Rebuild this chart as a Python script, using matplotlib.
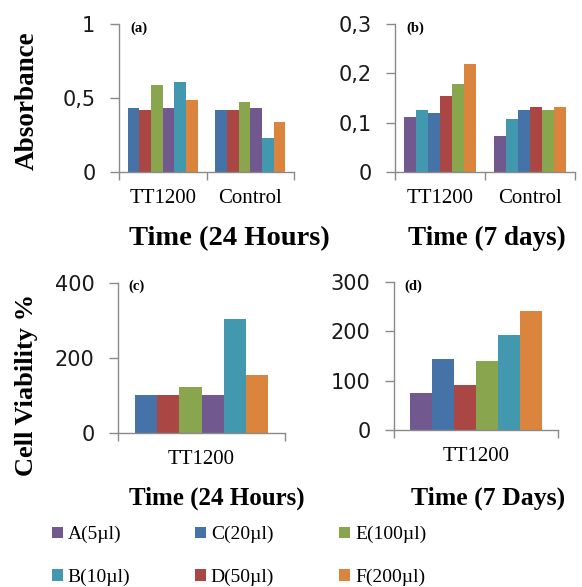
import numpy as np
import matplotlib.pyplot as plt
from matplotlib.patches import Patch
from matplotlib.ticker import FuncFormatter

W, H = 582, 587

# series names and colours
names = ["A(5µl)", "B(10µl)", "C(20µl)", "D(50µl)", "E(100µl)", "F(200µl)"]
colors = {
    "A(5µl)": "#71588F",
    "B(10µl)": "#4198AF",
    "C(20µl)": "#4572A7",
    "D(50µl)": "#AA4643",
    "E(100µl)": "#89A54E",
    "F(200µl)": "#DB843D",
}

# (a) absorbance, 24 hours
a_groups = ["TT1200", "Control"]
a_order = ["C(20µl)", "D(50µl)", "E(100µl)", "A(5µl)", "B(10µl)", "F(200µl)"]
a_tt1200 = [0.43, 0.42, 0.585, 0.43, 0.605, 0.485]
a_control = [0.42, 0.42, 0.475, 0.43, 0.23, 0.34]

# (b) absorbance, 7 days
b_groups = ["TT1200", "Control"]
b_order = ["A(5µl)", "B(10µl)", "C(20µl)", "D(50µl)", "E(100µl)", "F(200µl)"]
b_tt1200 = [0.112, 0.125, 0.119, 0.155, 0.179, 0.219]
b_control = [0.072, 0.108, 0.125, 0.132, 0.125, 0.132]

# (c) cell viability, 24 hours
c_groups = ["TT1200"]
c_order = ["C(20µl)", "D(50µl)", "E(100µl)", "A(5µl)", "B(10µl)", "F(200µl)"]
c_tt1200 = [101, 101, 124, 101, 303, 155]

# (d) cell viability, 7 days
d_groups = ["TT1200"]
d_order = ["A(5µl)", "C(20µl)", "D(50µl)", "E(100µl)", "B(10µl)", "F(200µl)"]
d_tt1200 = [76, 143, 92, 139, 193, 242]

SERIF = "Liberation Serif"
SANS = "DejaVu Sans"
GRAY = "#8a8a8a"


def px_box(x0, y0, x1, y1):
    # pixel box (top-left origin) -> figure fraction rect
    return [x0 / W, 1 - y1 / H, (x1 - x0) / W, (y1 - y0) / H]


def fx(x, y):
    return x / W, 1 - y / H


def comma_fmt(v, pos):
    s = f"{v:g}"
    return s.replace(".", ",")


def draw_panel(ax, groups, order, series, ymax, yticks, tag):
    n = len(order)
    gw = 0.8
    bw = gw / n
    for gi, vals in enumerate(series):
        for j, (name, v) in enumerate(zip(order, vals)):
            x = gi + 0.5 - gw / 2 + (j + 0.5) * bw
            ax.bar(x, v, width=bw, color=colors[name], linewidth=0)
    ax.set_xlim(0, len(groups))
    ax.set_ylim(0, ymax)
    ax.set_yticks(yticks)
    ax.yaxis.set_major_formatter(FuncFormatter(comma_fmt))
    ax.set_xticks([i + 0.5 for i in range(len(groups))])
    ax.set_xticklabels(groups, fontfamily=SERIF, fontsize=15)
    ax.set_xticks(range(len(groups) + 1), minor=True)
    ax.tick_params(axis="x", which="major", length=0, pad=12)
    ax.tick_params(axis="x", which="minor", length=6, color=GRAY, width=1)
    ax.tick_params(axis="y", length=6.5, color=GRAY, width=1, pad=10.5,
                   labelsize=15, labelcolor="#1a1a1a")
    for lab in ax.get_yticklabels():
        lab.set_fontfamily(SANS)
    for s in ["top", "right"]:
        ax.spines[s].set_visible(False)
    for s in ["left", "bottom"]:
        ax.spines[s].set_color(GRAY)
        ax.spines[s].set_linewidth(1)
    ax.text(0.065, 1.02, tag, transform=ax.transAxes, ha="left", va="top",
            fontfamily=SERIF, fontweight="bold", fontsize=10.5)


fig = plt.figure(figsize=(W / 100, H / 100), dpi=100)

ax_a = fig.add_axes(px_box(119, 24, 294, 172))
draw_panel(ax_a, a_groups, a_order, [a_tt1200, a_control], 1, [0, 0.5, 1], "(a)")

ax_b = fig.add_axes(px_box(395, 24, 575, 172))
draw_panel(ax_b, b_groups, b_order, [b_tt1200, b_control], 0.3,
           [0, 0.1, 0.2, 0.3], "(b)")

ax_c = fig.add_axes(px_box(118, 283, 285, 433))
draw_panel(ax_c, c_groups, c_order, [c_tt1200], 400, [0, 200, 400], "(c)")

ax_d = fig.add_axes(px_box(394, 282, 558, 430))
draw_panel(ax_d, d_groups, d_order, [d_tt1200], 300, [0, 100, 200, 300], "(d)")

# axis titles
bold = dict(fontfamily=SERIF, fontweight="bold")
fig.text(*fx(27, 101), "Absorbance", rotation=90, ha="center", va="center",
         fontsize=19.5, **bold)
fig.text(*fx(27, 385), "Cell Viability %", rotation=90, ha="center",
         va="center", fontsize=19, **bold)
fig.text(*fx(229, 245), "Time (24 Hours)", ha="center", va="baseline",
         fontsize=20.5, **bold)
fig.text(*fx(487, 245), "Time (7 days)", ha="center", va="baseline",
         fontsize=19.5, **bold)
fig.text(*fx(217, 505), "Time (24 Hours)", ha="center", va="baseline",
         fontsize=18, **bold)
fig.text(*fx(488, 505), "Time (7 Days)", ha="center", va="baseline",
         fontsize=18.5, **bold)

handles = [Patch(facecolor=colors[n], edgecolor="none", label=n) for n in names]
fig.legend(handles=handles, ncol=3, loc="upper left",
           bbox_to_anchor=fx(52, 526), frameon=False, borderpad=0,
           borderaxespad=0, handlelength=0.55, handleheight=0.55,
           handletextpad=0.25, columnspacing=3.35, labelspacing=1.3,
           prop={"family": SERIF, "size": 14})

fig.savefig("out.png", dpi=100)
